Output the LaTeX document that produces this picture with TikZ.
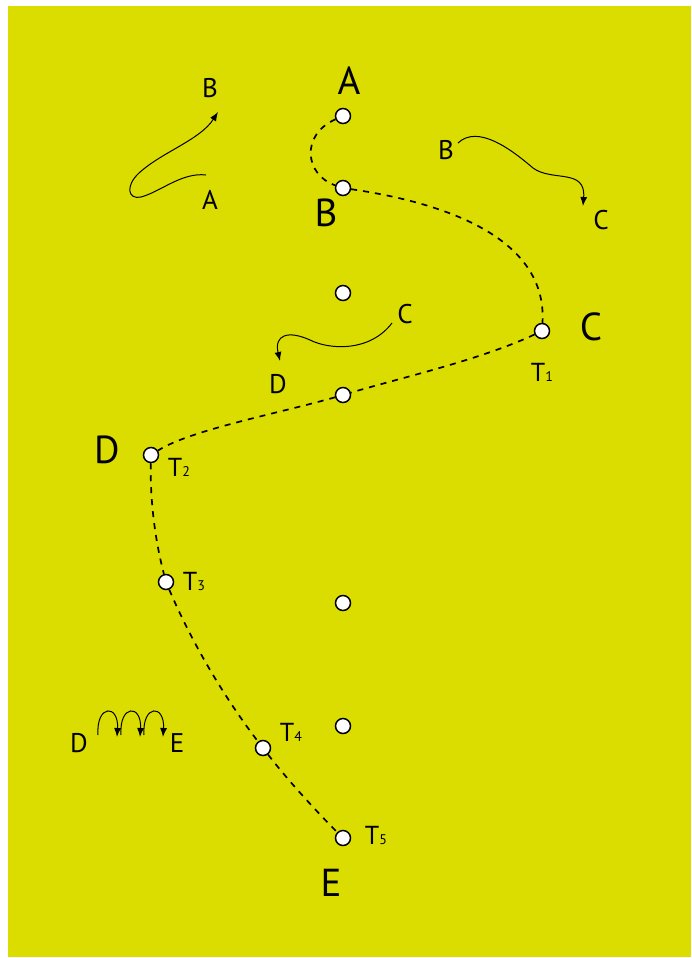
\documentclass[tikz,border=0pt]{standalone}
\usepackage{fontspec}
\setmainfont{PT Sans}
\usetikzlibrary{arrows.meta}
\definecolor{bgyellow}{RGB}{219,220,0}
\tikzset{
  stop/.style={circle,draw=black,fill=white,line width=1.5pt,minimum size=15pt,inner sep=0pt},
  biglbl/.style={inner sep=0pt,font=\fontsize{39}{39}\selectfont},
  smalllbl/.style={inner sep=0pt,font=\fontsize{27}{27}\selectfont},
  tlbl/.style={inner sep=0pt,font=\fontsize{26}{26}\selectfont},
  route/.style={line width=1.7pt,dash pattern=on 6pt off 6pt},
  move/.style={line width=1pt,-{Latex[length=9pt,width=7pt]}}
}
\newcommand{\tsub}[1]{T{\fontsize{14}{14}\selectfont #1}}
\begin{document}
\begin{tikzpicture}[x=1pt,y=-1pt]
\useasboundingbox (0,0) rectangle (691,958);
\fill[white] (0,0) rectangle (691,958);
\fill[bgyellow] (8,6) rectangle (691,957);

% stops
\node[stop] (sA) at (343,116) {};
\node[stop] (sB) at (343,188) {};
\node[stop] (s3) at (343,293) {};
\node[stop] (sC) at (542,331) {};
\node[stop] (s5) at (343,395) {};
\node[stop] (sD) at (151,455) {};
\node[stop] (sT3) at (166,582) {};
\node[stop] (s8) at (343,603) {};
\node[stop] (s9) at (343,726) {};
\node[stop] (sT4) at (263,748) {};
\node[stop] (sE) at (343,838) {};

% big labels
\node[biglbl] (lA) at (349,81) {A};
\node[biglbl] (lB) at (326,213) {B};
\node[biglbl] (lC) at (591,327) {C};
\node[biglbl] (lD) at (107,450) {D};
\node[biglbl] (lE) at (331,883) {E};

% T labels
\node[tlbl] (t1) at (542,372) {\tsub{1}};
\node[tlbl] (t2) at (179,467) {\tsub{2}};
\node[tlbl] (t3) at (194,581) {\tsub{3}};
\node[tlbl] (t4) at (291,732) {\tsub{4}};
\node[tlbl] (t5) at (376,835) {\tsub{5}};

% dashed route
\draw[route] (sA) .. controls (300,135) and (305,175) .. (sB);
\draw[route] (sB) .. controls (425,200) and (548,230) .. (sC);
\draw[route] (sC) .. controls (480,360) and (400,378) .. (s5);
\draw[route] (s5) .. controls (280,413) and (190,430) .. (sD);
\draw[route] (sD) .. controls (150,500) and (155,540) .. (sT3);
\draw[route] (sT3) .. controls (195,650) and (230,705) .. (sT4);
\draw[route] (sT4) .. controls (290,783) and (320,815) .. (sE);

% small labels
\node[smalllbl] (aB) at (210,88) {B};
\node[smalllbl] (aA) at (210,200) {A};
\node[smalllbl] (bB) at (446,150) {B};
\node[smalllbl] (bC) at (601,220) {C};
\node[smalllbl] (cC) at (405,314) {C};
\node[smalllbl] (cD) at (278,384) {D};
\node[smalllbl] (dD) at (79,743) {D};
\node[smalllbl] (dE) at (177,743) {E};

% small movement curves
\coordinate (m1s) at (206,175);
\coordinate (m1t) at (218,112);
\draw[move] (m1s) .. controls (182,172) and (160,192) .. (141,197)
  .. controls (128,200) and (125,186) .. (139,173)
  .. controls (162,152) and (200,140) .. (m1t);

\coordinate (m2s) at (458,143);
\coordinate (m2t) at (583,206);
\draw[move] (m2s) .. controls (478,124) and (512,150) .. (533,168)
  .. controls (552,182) and (586,168) .. (m2t);

\coordinate (m3s) at (392,323);
\coordinate (m3t) at (280,361);
\draw[move] (m3s) .. controls (370,352) and (330,350) .. (310,340)
  .. controls (288,330) and (274,335) .. (m3t);

\coordinate (m4a) at (98,735);
\coordinate (m4b) at (117,737);
\coordinate (m4c) at (121,735);
\coordinate (m4d) at (140,737);
\coordinate (m4e) at (144,735);
\coordinate (m4f) at (163,737);
\draw[move] (m4a) .. controls (96,704) and (119,704) .. (m4b);
\draw[move] (m4c) .. controls (119,704) and (142,704) .. (m4d);
\draw[move] (m4e) .. controls (142,704) and (165,704) .. (m4f);
\end{tikzpicture}
\end{document}
